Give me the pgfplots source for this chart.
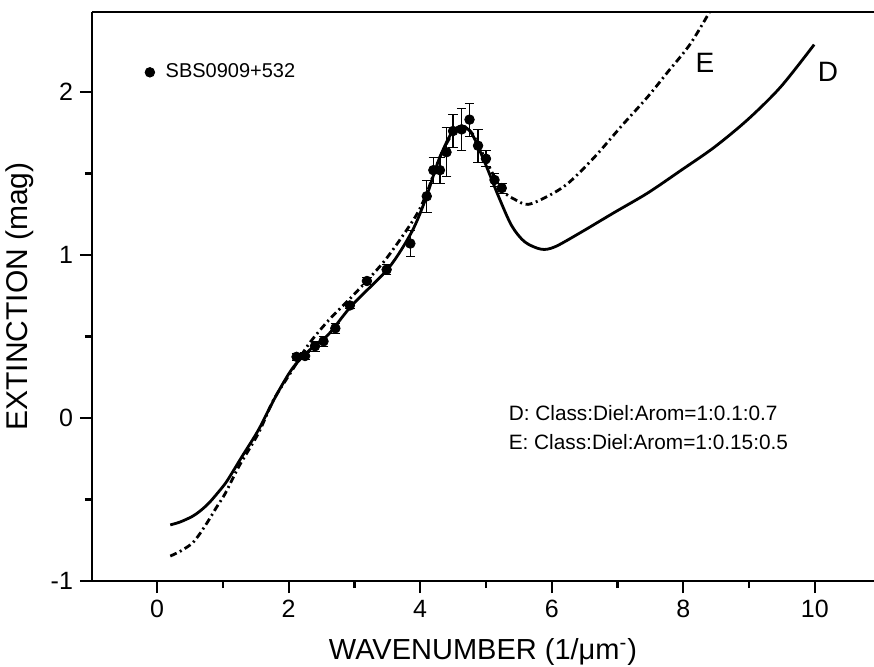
\documentclass[border=0pt]{standalone}
\usepackage{fontspec}
\setmainfont{Liberation Sans}
\usepackage{pgfplots}
\pgfplotsset{compat=1.18}
\begin{document}
\begin{tikzpicture}
\begin{axis}[
  scale only axis, width=391pt, height=284.5pt,
  xmin=-0.99, xmax=10.9, ymin=-1, ymax=2.49,
  axis x line*=box, axis y line*=left,
  axis line style={line width=1.4pt, black},
  xtick pos=bottom, ytick pos=left,
  tick align=outside,
  major tick length=6pt, minor tick length=3.5pt,
  every tick/.style={black, line width=1.1pt},
  xtick={0,2,4,6,8,10}, minor xtick={1,3,5,7,9},
  ytick={-1,0,1,2}, minor ytick={-0.5,0.5,1.5},
  /pgf/number format/assume math mode=true,
  ticklabel style={font=\fontsize{12.5}{14}\selectfont},
  xlabel={WAVENUMBER (1/μm\textsuperscript{-})},
  ylabel={EXTINCTION (mag)},
  xlabel style={font=\fontsize{14.5}{17}\selectfont, at={(axis description cs:0.5,-0.1248)}, anchor=center},
  ylabel style={font=\fontsize{15}{17}\selectfont, at={(axis description cs:-0.092,0.5)}, anchor=center},
  legend style={draw=none, fill=none, at={(axis cs:-0.28,2.12)}, anchor=west, font=\fontsize{10}{12}\selectfont},
  legend cell align=left,
]
\coordinate (bl) at (rel axis cs:0,0);
\coordinate (tr) at (rel axis cs:1,1);

% curve D (solid)
\addplot[black, line width=1.4pt, smooth, forget plot] coordinates {
(0.2,-0.656)(0.35,-0.638)(0.53,-0.605)(0.65,-0.572)(0.78,-0.525)(0.9,-0.47)(1.04,-0.40)
(1.15,-0.33)(1.29,-0.237)(1.54,-0.074)(1.80,0.13)(2.05,0.30)(2.3,0.41)(2.6,0.51)
(2.96,0.69)(3.52,0.92)(3.87,1.14)(4.08,1.34)(4.28,1.58)(4.48,1.75)(4.64,1.79)
(4.79,1.74)(4.99,1.56)(5.19,1.36)(5.39,1.18)(5.59,1.08)(5.84,1.035)(6.05,1.05)
(6.45,1.14)(6.95,1.26)(7.46,1.38)(7.97,1.52)(8.47,1.66)(8.98,1.83)(9.48,2.03)(9.99,2.29)
};

% curve E (dash-dot)
\addplot[black, line width=1.4pt, smooth, dash pattern=on 3.5pt off 1.8pt on 1pt off 1.8pt, forget plot] coordinates {
(0.2,-0.847)(0.35,-0.818)(0.53,-0.77)(0.65,-0.71)(0.78,-0.63)(0.9,-0.55)(1.04,-0.46)
(1.24,-0.30)(1.54,-0.094)(1.77,0.11)(2.05,0.29)(2.3,0.45)(2.61,0.60)(3.0,0.76)
(3.47,0.97)(3.92,1.23)(4.1,1.38)(4.3,1.60)(4.5,1.75)(4.65,1.79)(4.8,1.74)(5.0,1.58)
(5.24,1.40)(5.44,1.34)(5.64,1.31)(5.94,1.36)(6.25,1.44)(6.65,1.60)(7.06,1.79)
(7.46,1.97)(7.76,2.12)(8.1,2.29)(8.40,2.49)
};

% data
\addplot[black, only marks, mark=*, mark size=2.4pt, mark options={fill=black},
  error bars/.cd, y dir=both, y explicit, error bar style={line width=0.7pt}]
  table[x=x, y=y, y error=e] {
x y e
2.12 0.375 0.02
2.25 0.38 0.02
2.40 0.44 0.03
2.53 0.47 0.03
2.71 0.55 0.03
2.93 0.69 0.02
3.19 0.84 0.02
3.49 0.91 0.03
3.85 1.07 0.08
4.10 1.36 0.10
4.20 1.52 0.08
4.30 1.52 0.08
4.40 1.63 0.15
4.50 1.76 0.10
4.63 1.77 0.13
4.75 1.83 0.10
4.88 1.67 0.10
5.00 1.59 0.05
5.13 1.46 0.04
5.24 1.41 0.03
};
\addlegendentry{\hspace{3.5pt}SBS0909+532}

\node[font=\fontsize{14}{16}\selectfont] at (axis cs:8.33,2.18) {E};
\node[font=\fontsize{14}{16}\selectfont] at (axis cs:10.2,2.12) {D};
\node[anchor=west, align=left, font=\fontsize{10.4}{14.5}\selectfont] at (axis cs:5.24,-0.06)
  {D: Class:Diel:Arom=1:0.1:0.7\\E: Class:Diel:Arom=1:0.15:0.5};
\end{axis}
\pgfresetboundingbox
\path[use as bounding box] ([xshift=-46pt,yshift=-42.5pt]bl) rectangle ([yshift=6pt]tr);
\end{tikzpicture}
\end{document}
